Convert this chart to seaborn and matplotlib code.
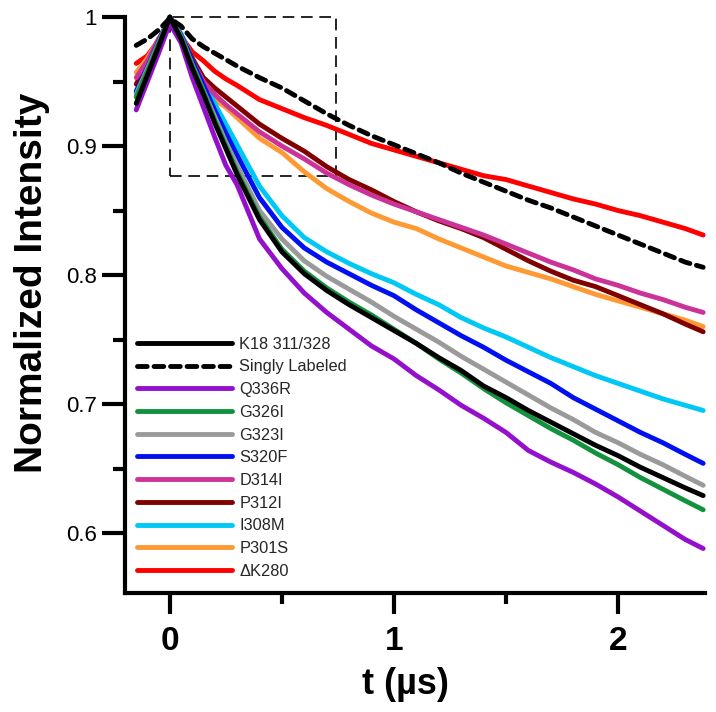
import numpy as np
import pandas as pd
import matplotlib
matplotlib.use("Agg")
import matplotlib.pyplot as plt
from matplotlib.patches import Rectangle
from matplotlib.ticker import MultipleLocator
import seaborn as sns

# ==============================
# DATA
# ==============================

t_us = [-0.15, -0.1, -0.05, 0.0, 0.05, 0.1, 0.15, 0.2, 0.25, 0.3,
        0.4, 0.5, 0.6, 0.7, 0.8, 0.9, 1.0, 1.1, 1.2, 1.3,
        1.4, 1.5, 1.6, 1.7, 1.8, 1.9, 2.0, 2.1, 2.2, 2.3, 2.38]

k18_311_328 = [0.933, 0.955, 0.977, 1.0, 0.983, 0.960, 0.940, 0.918, 0.898, 0.878,
               0.843, 0.818, 0.801, 0.788, 0.777, 0.767, 0.757, 0.747, 0.736, 0.726,
               0.714, 0.705, 0.695, 0.686, 0.677, 0.668, 0.660, 0.651, 0.643, 0.635, 0.629]
singly_labeled = [0.978, 0.983, 0.990, 0.999, 0.993, 0.983, 0.977, 0.972, 0.967, 0.962,
                  0.953, 0.945, 0.935, 0.925, 0.916, 0.908, 0.901, 0.894, 0.887, 0.879,
                  0.872, 0.865, 0.858, 0.852, 0.845, 0.838, 0.831, 0.824, 0.817, 0.810, 0.806]
q336r = [0.928, 0.950, 0.972, 0.995, 0.980, 0.953, 0.930, 0.907, 0.885, 0.870,
         0.828, 0.805, 0.786, 0.771, 0.758, 0.745, 0.735, 0.722, 0.711, 0.699,
         0.689, 0.678, 0.664, 0.655, 0.647, 0.638, 0.628, 0.617, 0.606, 0.595, 0.588]
g326i = [0.938, 0.958, 0.979, 1.0, 0.984, 0.962, 0.942, 0.920, 0.900, 0.880,
         0.845, 0.820, 0.803, 0.790, 0.779, 0.769, 0.758, 0.747, 0.735, 0.724,
         0.712, 0.701, 0.691, 0.681, 0.672, 0.662, 0.653, 0.643, 0.634, 0.625, 0.618]
g323i = [0.940, 0.960, 0.980, 1.0, 0.985, 0.963, 0.943, 0.923, 0.903, 0.885,
         0.850, 0.828, 0.811, 0.799, 0.789, 0.779, 0.768, 0.758, 0.748, 0.737,
         0.727, 0.717, 0.707, 0.697, 0.688, 0.678, 0.670, 0.661, 0.653, 0.644, 0.637]
s320f = [0.942, 0.961, 0.981, 1.0, 0.986, 0.966, 0.947, 0.928, 0.910, 0.893,
         0.860, 0.837, 0.821, 0.810, 0.801, 0.792, 0.784, 0.773, 0.763, 0.753,
         0.744, 0.734, 0.725, 0.716, 0.705, 0.696, 0.687, 0.678, 0.670, 0.661, 0.654]
d314i = [0.953, 0.966, 0.983, 0.997, 0.984, 0.966, 0.950, 0.940, 0.932, 0.925,
         0.911, 0.900, 0.890, 0.879, 0.870, 0.862, 0.855, 0.849, 0.843, 0.837,
         0.831, 0.824, 0.817, 0.810, 0.804, 0.797, 0.792, 0.786, 0.781, 0.775, 0.771]
p312i = [0.948, 0.964, 0.982, 0.998, 0.985, 0.968, 0.953, 0.945, 0.938, 0.931,
         0.917, 0.906, 0.896, 0.884, 0.874, 0.866, 0.857, 0.849, 0.842, 0.836,
         0.829, 0.820, 0.811, 0.803, 0.796, 0.791, 0.784, 0.777, 0.770, 0.762, 0.756]
i308m = [0.943, 0.962, 0.982, 1.0, 0.987, 0.968, 0.950, 0.933, 0.917, 0.901,
         0.869, 0.846, 0.829, 0.818, 0.809, 0.801, 0.794, 0.785, 0.777, 0.767,
         0.759, 0.752, 0.744, 0.736, 0.729, 0.722, 0.716, 0.710, 0.704, 0.699, 0.695]
p301s = [0.957, 0.968, 0.983, 0.995, 0.982, 0.963, 0.945, 0.936, 0.930, 0.922,
         0.906, 0.895, 0.880, 0.867, 0.857, 0.848, 0.841, 0.836, 0.828, 0.821,
         0.814, 0.807, 0.802, 0.797, 0.791, 0.785, 0.780, 0.775, 0.770, 0.765, 0.760]
dk280 = [0.964, 0.970, 0.982, 0.997, 0.985, 0.973, 0.966, 0.958, 0.952, 0.947,
         0.936, 0.929, 0.922, 0.916, 0.909, 0.902, 0.897, 0.892, 0.887, 0.882,
         0.877, 0.874, 0.869, 0.864, 0.859, 0.855, 0.850, 0.846, 0.841, 0.836, 0.831]

series_labels = ['K18 311/328', 'Singly Labeled', 'Q336R', 'G326I', 'G323I', 'S320F',
                 'D314I', 'P312I', 'I308M', 'P301S', '\u0394K280']
series_values = [k18_311_328, singly_labeled, q336r, g326i, g323i, s320f,
                 d314i, p312i, i308m, p301s, dk280]
series_colors = ['#000000', '#000000', '#9410CC', '#12923E', '#9A9A9A', '#0010F0',
                 '#CC3399', '#800000', '#00C8F5', '#FF9933', '#FF0000']

# dashed zoom box (t0, t1, y0, y1)
box_t = [0.0, 0.74]
box_y = [0.877, 1.0]

# ==============================
# FIGURE
# ==============================

sns.set_theme(style="ticks")
plt.rcParams['font.family'] = ['Liberation Sans', 'DejaVu Sans']

fig = plt.figure(figsize=(7.16, 7.12), dpi=100)
ax = fig.add_axes([0.1746, 0.1671, 0.81, 0.809])

handles = {}
# draw from last to first so K18 ends up on top
for name, vals, col in reversed(list(zip(series_labels, series_values, series_colors))):
    ls = (0, (2.0, 1.4)) if name == 'Singly Labeled' else '-'
    sns.lineplot(x=t_us, y=vals, color=col, lw=3.5, linestyle=ls, ax=ax,
                 clip_on=False, solid_capstyle='round', dash_capstyle='round',
                 solid_joinstyle='round', legend=False)
    handles[name] = ax.lines[-1]

ax.add_patch(Rectangle((box_t[0], box_y[0]), box_t[1] - box_t[0], box_y[1] - box_y[0],
                       fill=False, ec='black', lw=1.2, ls=(0, (7, 4)), clip_on=False))

# ==============================
# AXES
# ==============================

ax.set_xlim(-0.2, 2.388)
ax.set_ylim(0.5535, 1.0)

ax.set_xticks([0, 1, 2])
ax.set_xticklabels(['0', '1', '2'], fontsize=24, fontweight='bold')
ax.set_yticks([0.6, 0.7, 0.8, 0.9, 1.0])
ax.set_yticklabels(['0.6', '0.7', '0.8', '0.9', '1'], fontsize=16)
ax.xaxis.set_minor_locator(MultipleLocator(0.5))
ax.yaxis.set_minor_locator(MultipleLocator(0.05))

ax.tick_params(axis='x', which='major', length=15, width=3, pad=9, colors='black')
ax.tick_params(axis='x', which='minor', length=8, width=3, colors='black')
ax.tick_params(axis='y', which='major', length=16.5, width=3, pad=3.5, colors='black')
ax.tick_params(axis='y', which='minor', length=8.5, width=3, colors='black')

sns.despine(ax=ax)
for side in ['left', 'bottom']:
    ax.spines[side].set_linewidth(3)
    ax.spines[side].set_color('black')

ax.set_xlabel('t (\u00b5s)', fontsize=26, fontweight='bold', color='black')
ax.set_ylabel('Normalized Intensity', fontsize=28, fontweight='bold', color='black')
ax.xaxis.set_label_coords(0.483, -0.128)
ax.yaxis.set_label_coords(-0.13, 0.538)

ax.legend([handles[n] for n in series_labels], series_labels,
          loc='upper left', bbox_to_anchor=(0.02, 0.445), frameon=False,
          fontsize=11.8, handlelength=5.85, handletextpad=0.42, labelspacing=0.47,
          borderpad=0, borderaxespad=0)

fig.savefig('out.png', dpi=100)
